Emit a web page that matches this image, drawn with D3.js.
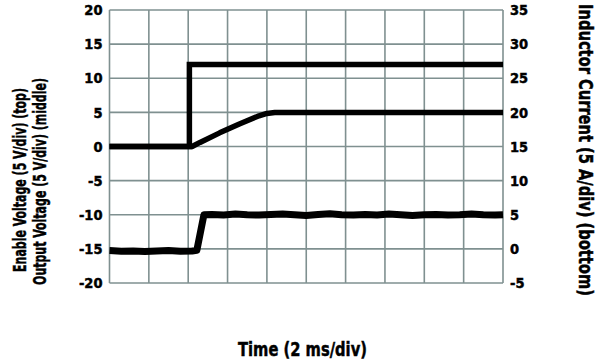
<!DOCTYPE html>
<html>
<head>
<meta charset="utf-8">
<script src="https://cdn.jsdelivr.net/npm/d3@7"></script>
<style>
  html, body { margin: 0; padding: 0; background: #fff; }
  svg text { font-family: "DejaVu Sans Condensed", "Liberation Sans Narrow", sans-serif; font-weight: bold; fill: #000; stroke: #000; stroke-width: 0.45px; }
</style>
</head>
<body>
<svg id="chart" width="611" height="364"></svg>
<script>
// Time axis in divisions (2 ms/div)
const timeDomain = [0, 10];
const leftTicks = [-20, -15, -10, -5, 0, 5, 10, 15, 20];
const rightTicks = [-5, 0, 5, 10, 15, 20, 25, 30, 35];

// Enable voltage (V)
const enableTime = [0, 2.03, 2.03, 10];
const enableV = [0, 0, 12, 12];

// Output voltage (V)
const outputTime = [0, 2.1, 2.3, 2.8, 3.3, 3.8, 4.0, 4.2, 4.4, 10];
const outputV = [0, 0, 0.6, 2.0, 3.3, 4.5, 4.85, 4.97, 5.0, 5.0];

// Inductor current (A)
const currentTime = [0, 0.3, 0.6, 0.9, 1.2, 1.5, 1.8, 2.1, 2.22, 2.4, 2.6, 2.9, 3.2, 3.5, 3.8, 4.1, 4.4, 4.7, 5.0, 5.3, 5.6, 5.9, 6.2, 6.5, 6.8, 7.1, 7.4, 7.7, 8.0, 8.3, 8.6, 8.9, 9.2, 9.5, 9.8, 10];
const currentA = [-0.25, -0.35, -0.3, -0.4, -0.3, -0.25, -0.35, -0.3, -0.2, 5.0, 5.05, 4.95, 5.1, 5.0, 4.95, 5.05, 5.1, 5.0, 4.9, 5.05, 5.15, 5.0, 4.95, 5.05, 4.95, 5.1, 5.0, 4.9, 5.0, 5.05, 4.95, 5.0, 5.1, 5.0, 4.95, 5.0];

const svg = d3.select("#chart");
const plot = { left: 109.5, right: 503, top: 10, bottom: 283 };

const x = d3.scaleLinear().domain(timeDomain).range([plot.left, plot.right]);
const yL = d3.scaleLinear().domain([-20, 20]).range([plot.bottom, plot.top]);
const yR = d3.scaleLinear().domain([-5, 35]).range([plot.bottom, plot.top]);

const gridColor = "#7f9090";
const plain = d => String(d);   // ASCII hyphen for negatives

// Grid
const grid = svg.append("g");
grid.selectAll("line.v").data(d3.range(0, 11)).join("line")
  .attr("x1", d => x(d)).attr("x2", d => x(d))
  .attr("y1", plot.top).attr("y2", plot.bottom)
  .attr("stroke", gridColor).attr("stroke-width", 1.6);
grid.selectAll("line.h").data(leftTicks).join("line")
  .attr("x1", plot.left).attr("x2", plot.right)
  .attr("y1", d => yL(d)).attr("y2", d => yL(d))
  .attr("stroke", gridColor).attr("stroke-width", 1.6);

// Axes (labels only)
const leftAxis = svg.append("g").attr("transform", `translate(${plot.left},0)`)
  .call(d3.axisLeft(yL).tickValues(leftTicks).tickFormat(plain).tickSize(0).tickPadding(7));
const rightAxis = svg.append("g").attr("transform", `translate(${plot.right},0)`)
  .call(d3.axisRight(yR).tickValues(rightTicks).tickFormat(plain).tickSize(0).tickPadding(7));
[leftAxis, rightAxis].forEach(a => {
  a.attr("font-family", null).attr("font-size", null);
  a.select(".domain").remove();
  a.selectAll("text").attr("font-size", 14.5).attr("fill", "#000");
});

// Traces
const lineFrom = (xs, ys, yScale) => d3.line()
  .x((d, i) => x(xs[i])).y((d, i) => yScale(ys[i]))(xs);

svg.append("path").attr("d", lineFrom(outputTime, outputV, yL))
  .attr("fill", "none").attr("stroke", "#000").attr("stroke-width", 5.5)
  .attr("stroke-linejoin", "round");
svg.append("path").attr("d", lineFrom(enableTime, enableV, yL))
  .attr("fill", "none").attr("stroke", "#000").attr("stroke-width", 5.5)
  .attr("stroke-linejoin", "miter");
svg.append("path").attr("d", lineFrom(currentTime, currentA, yR))
  .attr("fill", "none").attr("stroke", "#000").attr("stroke-width", 7)
  .attr("stroke-linejoin", "round");

// Titles, squeezed horizontally to a given length
function title(t, cx, cy, angle, len, size) {
  const el = svg.append("text").attr("text-anchor", "middle")
    .attr("font-size", size).text(t);
  const natural = el.node().getComputedTextLength();
  el.attr("transform", `translate(${cx},${cy}) rotate(${angle}) scale(${len / natural},1)`);
  return el;
}
title("Enable Voltage (5 V/div) (top)", 25.5, 180, -90, 184, 17.5);
title("Output Voltage (5 V/div) (middle)", 45.5, 181.5, -90, 207, 17.5);
title("Inductor Current (5 A/div) (bottom)", 579, 150, 90, 292, 19);
title("Time (2 ms/div)", 302.5, 356, 0, 129, 19);
</script>
</body>
</html>
